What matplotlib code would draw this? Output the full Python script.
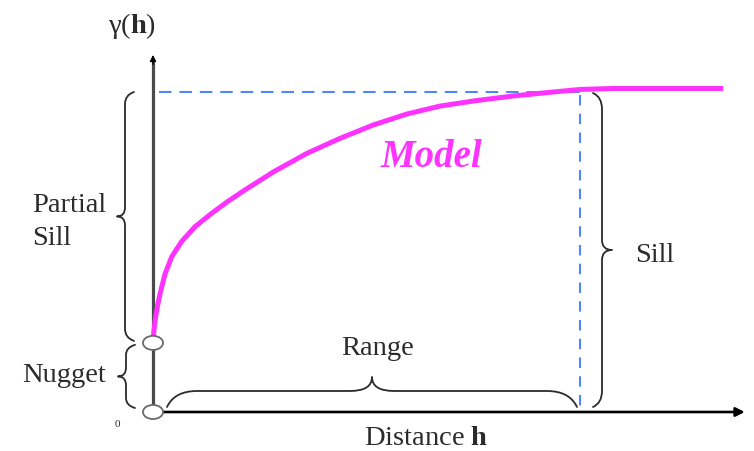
import matplotlib
matplotlib.use("Agg")
import numpy as np
import matplotlib.pyplot as plt
from matplotlib.path import Path
from matplotlib.patches import PathPatch, Ellipse
from matplotlib.transforms import IdentityTransform

plt.rcParams["font.family"] = ["Liberation Serif", "DejaVu Serif"]
plt.rcParams["mathtext.fontset"] = "custom"
plt.rcParams["mathtext.rm"] = "Liberation Serif"
plt.rcParams["mathtext.bf"] = "Liberation Serif:bold"
plt.rcParams["mathtext.it"] = "Liberation Serif:italic"

# Variogram model samples: lag distance h and semivariance gamma(h)
h_model = [0.0, 0.023, 0.059, 0.105, 0.164, 0.281, 0.438, 0.672, 0.984,
           1.375, 1.763, 2.155, 2.817, 3.600, 4.379, 5.159, 5.941, 6.721,
           7.564, 8.431, 9.220, 10.0, 10.773, 13.349]
gamma_model = [0.216, 0.256, 0.294, 0.331, 0.369, 0.431, 0.485, 0.533, 0.579,
               0.621, 0.659, 0.694, 0.750, 0.808, 0.855, 0.897, 0.931, 0.956,
               0.973, 0.9875, 0.998, 1.008, 1.011, 1.011]

nugget = 0.216
sill = 1.0
range_h = 10.0
x_axis_end = 13.86
y_axis_end = 1.116

INK = "#2b2b2b"
MAGENTA = "#ff33ff"
BLUE = "#4f86ff"

fig = plt.figure(figsize=(7.54, 4.51), dpi=100)
ax = fig.add_axes([0, 0, 1, 1])
ax.set_xlim(-3.583, 14.075)
ax.set_ylim(-0.1219, 1.2875)
ax.axis("off")

# Axes with arrow heads
ax.plot([0, 0], [0, y_axis_end - 0.02], color="#4a4a4a", lw=2.3, zorder=2,
        solid_capstyle="butt")
ax.annotate("", xy=(0, y_axis_end), xytext=(0, y_axis_end - 0.03),
            arrowprops=dict(arrowstyle="-|>", lw=1.0, color="black",
                            mutation_scale=9, shrinkA=0, shrinkB=0), zorder=2)
ax.annotate("", xy=(x_axis_end, 0), xytext=(0, 0),
            arrowprops=dict(arrowstyle="-|>", lw=1.9, color="black",
                            mutation_scale=13, shrinkA=0, shrinkB=0), zorder=2)

# Sill and range guide lines
ax.plot([0.15, range_h], [sill, sill], color=BLUE, lw=1.5,
        dashes=(6, 3.8), zorder=3)
ax.plot([range_h, range_h], [sill - 0.01, 0.01], color=BLUE, lw=1.5,
        dashes=(5, 4), zorder=3)

# Model curve
ax.plot(h_model, gamma_model, color=MAGENTA, lw=3.6, zorder=4,
        solid_capstyle="butt", solid_joinstyle="round")

# Open markers at origin and nugget
for yv in (0.0, nugget):
    ax.add_patch(Ellipse((0, yv), width=0.47, height=0.044, facecolor="white",
                         edgecolor="#6a6a6a", lw=1.3, zorder=6))


def brace(p_start, p_end, normal, w, t, r, rt, lw=1.3):
    """Curly brace in display pixels between two hook points, tip toward normal."""
    p0 = np.asarray(p_start, float)
    p1 = np.asarray(p_end, float)
    L = np.linalg.norm(p1 - p0)
    a = (p1 - p0) / L
    n = np.asarray(normal, float)
    n = n / np.linalg.norm(n)
    m = L / 2.0

    def P(s, p):
        return tuple(p0 + a * s + n * p)

    verts = [P(0, 0), P(0.25 * r, w), P(r, w),
             P(m - rt, w),
             P(m, w), P(m, w + t),
             P(m, w), P(m + rt, w),
             P(L - r, w),
             P(L - 0.25 * r, w), P(L, 0)]
    codes = [Path.MOVETO, Path.CURVE3, Path.CURVE3,
             Path.LINETO,
             Path.CURVE3, Path.CURVE3,
             Path.CURVE3, Path.CURVE3,
             Path.LINETO,
             Path.CURVE3, Path.CURVE3]
    patch = PathPatch(Path(verts, codes), facecolor="none", edgecolor=INK,
                      lw=lw, transform=IdentityTransform(), zorder=5,
                      capstyle="round", joinstyle="round")
    fig.add_artist(patch)


fig.canvas.draw()
T = ax.transData.transform

# Partial sill brace (left, between nugget and sill)
b0 = T((0, nugget)) + np.array([-19, 2])
b1 = T((0, sill)) + np.array([-19, 0])
brace(b0, b1, (-1, 0), w=9, t=8, r=12, rt=9)

# Nugget brace (left, between origin and nugget)
b0 = T((0, 0)) + np.array([-18, 4])
b1 = T((0, nugget)) + np.array([-18, -2])
brace(b0, b1, (-1, 0), w=9, t=8, r=10, rt=9)

# Range brace (above the h axis)
b0 = T((0, 0)) + np.array([14, 5])
b1 = T((range_h, 0)) + np.array([-3, 5])
brace(b0, b1, (0, 1), w=16, t=14, r=30, rt=22)

# Sill brace (right of the range line)
b0 = T((range_h, 0)) + np.array([13, 5])
b1 = T((range_h, sill)) + np.array([13, -1])
brace(b0, b1, (1, 0), w=9, t=10, r=16, rt=10)

# Labels
fs = 20.5
ax.text(-0.49, 1.206, r"$\mathrm{γ(}\mathbf{h}\mathrm{)}$", fontsize=fs,
        color=INK, ha="center", va="center")
ax.text(-2.83, 0.625, "Partial", fontsize=fs, color=INK, ha="left", va="baseline")
ax.text(-2.83, 0.522, "Sill", fontsize=fs, color=INK, ha="left", va="baseline")
ax.text(-3.07, 0.095, "Nugget", fontsize=fs, color=INK, ha="left", va="baseline")
ax.text(-0.84, -0.04, "0", fontsize=8, color=INK, ha="center", va="center")
ax.text(5.25, 0.178, "Range", fontsize=fs, color=INK, ha="center", va="baseline")
ax.text(11.29, 0.469, "Sill", fontsize=fs, color=INK, ha="left", va="baseline")
ax.text(6.51, 0.766, "Model", fontsize=28, color=MAGENTA, ha="center",
        va="baseline", fontweight="bold", fontstyle="italic")
ax.text(6.39, -0.104, r"$\mathrm{Distance\ }\mathbf{h}$", fontsize=fs,
        color=INK, ha="center", va="baseline")

fig.savefig("out.png", dpi=100)
